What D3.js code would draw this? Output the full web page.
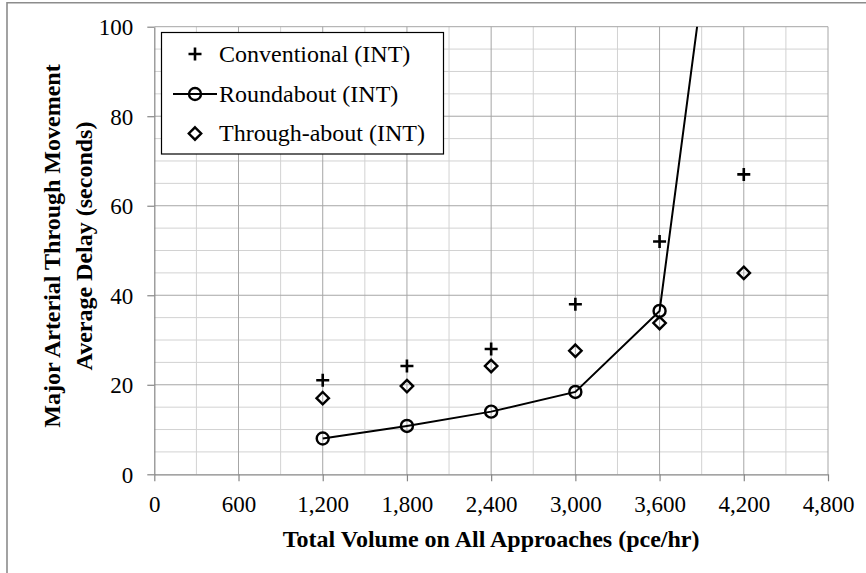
<!DOCTYPE html>
<html>
<head>
<meta charset="utf-8">
<script src="https://cdn.jsdelivr.net/npm/d3@7"></script>
<style>
  html, body { margin: 0; padding: 0; background: #fff; }
  svg { display: block; }
</style>
</head>
<body>
<svg id="chart" width="866" height="573"></svg>
<script>
// ---- data ----
const volumes = [1200, 1800, 2400, 3000, 3600, 4200];
const conventional = [21, 24.2, 28, 38, 52, 67];
const roundabout = [8, 10.8, 14, 18.4, 36.5, 179];
const throughabout = [17, 19.7, 24.2, 27.6, 33.8, 45];
const xTicks = [0, 600, 1200, 1800, 2400, 3000, 3600, 4200, 4800];
const yTicks = [0, 20, 40, 60, 80, 100];
const seriesNames = ["Conventional (INT)", "Roundabout (INT)", "Through-about (INT)"];
const xTitle = "Total Volume on All Approaches (pce/hr)";
const yTitle = ["Major Arterial Through Movement", "Average Delay (seconds)"];

// ---- layout ----
const svg = d3.select("#chart");
const font = "'Liberation Serif', 'Times New Roman', serif";
const L = 154.3, R = 828, T = 26.7, B = 474.3;
const x = d3.scaleLinear().domain([0, 4800]).range([L, R]);
const y = d3.scaleLinear().domain([0, 100]).range([B, T]);

// outer frame (cropped)
svg.append("path").attr("d", "M7,573V2.7H866").attr("fill", "none")
  .attr("stroke", "#8c8c8c").attr("stroke-width", 1.6);

// gridlines
const g = svg.append("g");
const minorX = d3.range(300, 4800, 600);
const minorY = d3.range(5, 100, 5).filter(v => v % 20 !== 0);
g.selectAll(".mx").data(minorX).join("line")
  .attr("x1", d => x(d)).attr("x2", d => x(d)).attr("y1", T).attr("y2", B)
  .attr("stroke", "#d2d2d2").attr("stroke-width", 1);
g.selectAll(".my").data(minorY).join("line")
  .attr("y1", d => y(d)).attr("y2", d => y(d)).attr("x1", L).attr("x2", R)
  .attr("stroke", "#d2d2d2").attr("stroke-width", 1);
g.selectAll(".Mx").data(xTicks.slice(1)).join("line")
  .attr("x1", d => x(d)).attr("x2", d => x(d)).attr("y1", T).attr("y2", B)
  .attr("stroke", "#a6a6a6").attr("stroke-width", 1);
g.selectAll(".My").data(yTicks.slice(1)).join("line")
  .attr("y1", d => y(d)).attr("y2", d => y(d)).attr("x1", L).attr("x2", R)
  .attr("stroke", "#a6a6a6").attr("stroke-width", 1);

// axes
const xAxis = svg.append("g").attr("transform", `translate(0,${B})`)
  .call(d3.axisBottom(x).tickValues(xTicks).tickSize(7).tickSizeOuter(0)
    .tickFormat(d3.format(",")));
const yAxis = svg.append("g").attr("transform", `translate(${L},0)`)
  .call(d3.axisLeft(y).tickValues(yTicks).tickSize(7).tickSizeOuter(0));
[xAxis, yAxis].forEach(a => {
  a.select(".domain").attr("stroke", "#868686").attr("stroke-width", 1.2);
  a.selectAll(".tick line").attr("stroke", "#868686").attr("stroke-width", 1.2);
  a.selectAll("text").attr("font-family", font).attr("font-size", 23).attr("fill", "#000");
});
xAxis.selectAll("text").attr("y", 37.4).attr("dy", 0);
yAxis.selectAll("text").attr("x", -21).attr("dy", "0.34em");

// axis titles
svg.append("text").attr("x", (L + R) / 2).attr("y", 546.5)
  .attr("text-anchor", "middle").attr("font-family", font).attr("font-size", 24)
  .attr("font-weight", "bold").text(xTitle);
const yt = svg.append("g").attr("transform", "rotate(-90)");
yt.append("text").attr("x", -246).attr("y", 60).attr("text-anchor", "middle")
  .attr("font-family", font).attr("font-size", 24).attr("font-weight", "bold").text(yTitle[0]);
yt.append("text").attr("x", -246).attr("y", 92).attr("text-anchor", "middle")
  .attr("font-family", font).attr("font-size", 24).attr("font-weight", "bold").text(yTitle[1]);

// clip
svg.append("clipPath").attr("id", "plotclip").append("rect")
  .attr("x", L).attr("y", T).attr("width", R - L).attr("height", B - T);

// marker helpers
function plus(sel, cx, cy) {
  sel.append("path").attr("d", `M${cx - 6.5},${cy}H${cx + 6.5}M${cx},${cy - 6.5}V${cy + 6.5}`)
    .attr("stroke", "#000").attr("stroke-width", 2.6).attr("fill", "none");
}
function circle(sel, cx, cy) {
  sel.append("circle").attr("cx", cx).attr("cy", cy).attr("r", 6)
    .attr("stroke", "#000").attr("stroke-width", 2.4).attr("fill", "none");
}
function diamond(sel, cx, cy) {
  const s = 6.2;
  sel.append("path").attr("d", `M${cx},${cy - s}L${cx + s},${cy}L${cx},${cy + s}L${cx - s},${cy}Z`)
    .attr("stroke", "#000").attr("stroke-width", 2.4).attr("fill", "none");
}

const plot = svg.append("g").attr("clip-path", "url(#plotclip)");
const rbData = volumes.map((v, i) => [v, roundabout[i]]);
plot.append("path").datum(rbData)
  .attr("d", d3.line().x(d => x(d[0])).y(d => y(d[1])))
  .attr("fill", "none").attr("stroke", "#000").attr("stroke-width", 2);
const marks = svg.append("g");
volumes.forEach((v, i) => {
  plus(marks, x(v), y(conventional[i]));
  diamond(marks, x(v), y(throughabout[i]));
});
volumes.forEach((v, i) => {
  if (roundabout[i] <= 100) circle(marks, x(v), y(roundabout[i]));
});

// legend
const lg = svg.append("g");
lg.append("rect").attr("x", 161.5).attr("y", 32.5).attr("width", 282).attr("height", 121.5)
  .attr("fill", "#fff").attr("stroke", "#000").attr("stroke-width", 1.2);
const rows = [54, 94, 133.5];
plus(lg, 195, rows[0]);
lg.append("line").attr("x1", 173).attr("x2", 217).attr("y1", rows[1]).attr("y2", rows[1])
  .attr("stroke", "#000").attr("stroke-width", 2);
circle(lg, 195, rows[1]);
diamond(lg, 195, rows[2]);
seriesNames.forEach((n, i) => {
  lg.append("text").attr("x", 219).attr("y", rows[i]).attr("dy", "0.33em")
    .attr("font-family", font).attr("font-size", 24).attr("fill", "#000").text(n);
});
</script>
</body>
</html>
